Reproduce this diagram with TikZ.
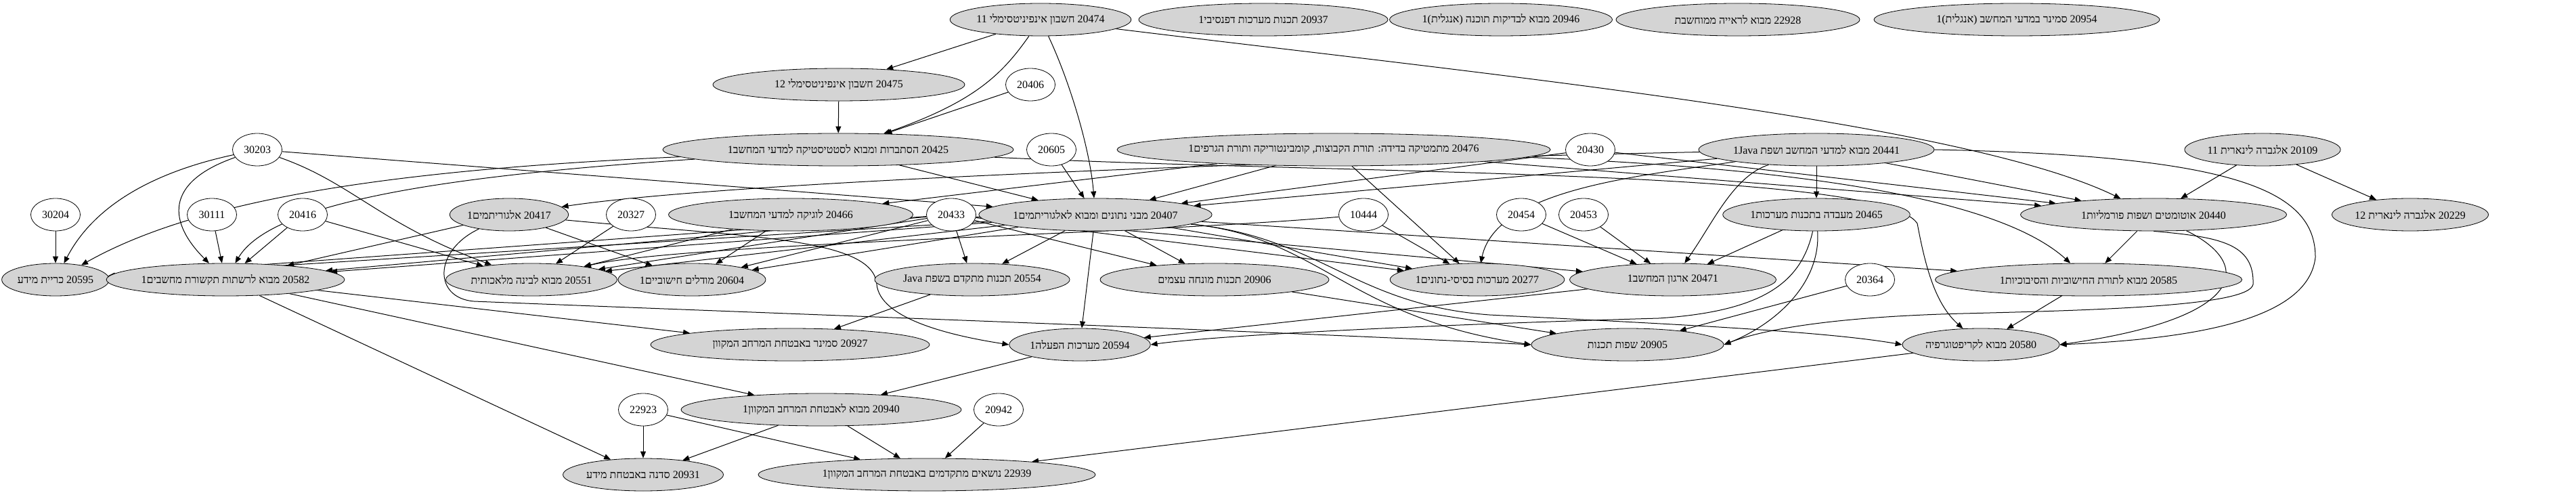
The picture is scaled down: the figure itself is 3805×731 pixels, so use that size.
\documentclass[tikz,border=0pt]{standalone}
\usepackage{fontspec}
\setmainfont{Liberation Serif}
\newfontfamily\hebfont[Script=Hebrew]{Liberation Serif}
\TeXXeTstate=1
\usetikzlibrary{arrows.meta,shapes.geometric,backgrounds}
\newcommand\rl[1]{\beginR #1\endR}
\newcommand\mk{\kern0pt 1}

\begin{document}
\begin{tikzpicture}[x=0.5pt, y=-0.5pt,
  course/.style={draw, ellipse, fill=black!17, inner sep=0pt, minimum height=24pt,
                 font=\hebfont\fontsize{8}{9.6}\selectfont},
  extra/.style={draw, ellipse, fill=white, inner sep=0pt, minimum height=24pt,
                minimum width=36.5pt, font=\hebfont\fontsize{8}{9.6}\selectfont},
  pre/.style={-{Triangle[length=5pt,width=4pt]}, line width=0.5pt}
]
\useasboundingbox (0,0) rectangle (3805,731);

% row 1
\node[course, minimum width=124.5pt] (c20474) at (1537,29) {\rl{20474 חשבון אינפיניטסימלי 11}};
\node[course, minimum width=184pt] (c20937) at (1866,29) {\rl{20937 תכנות מערכות דפנסיבי\mk}};
\node[course, minimum width=147.5pt] (c20946) at (2217,29) {\rl{20946 מבוא לבדיקות תוכנה (אנגלית)\mk}};
\node[course, minimum width=180pt] (c22928) at (2567,29) {\rl{22928 מבוא לראייה ממוחשבת}};
\node[course, minimum width=211pt] (c20954) at (2979,29) {\rl{20954 סמינר במדעי המחשב (אנגלית)\mk}};
% row 2
\node[course, minimum width=186pt] (c20475) at (1239,125) {\rl{20475 חשבון אינפיניטסימלי 12}};
\node[extra] (n20406) at (1522,125) {20406};
% row 3
\node[extra] (n30203) at (380,221) {30203};
\node[course, minimum width=259pt] (c20425) at (1238,221) {\rl{20425 הסתברות ומבוא לסטטיסטיקה למדעי המחשב\mk}};
\node[extra] (n20605) at (1553,221) {20605};
\node[course, minimum width=320pt] (c20476) at (1970,221) {\rl{20476 מתמטיקה בדידה: תורת הקבוצות, קומבינטוריקה ותורת הגרפים\mk}};
\node[extra] (n20430) at (2349,221) {20430};
\node[course, minimum width=154.5pt] (c20441) at (2683,221) {\rl{20441 מבוא למדעי המחשב ושפת 1Java}};
\node[course, minimum width=109pt] (c20109) at (3342,221) {\rl{20109 אלגברה לינארית 11}};
% row 4
\node[extra] (n30204) at (82,317) {30204};
\node[extra] (n30111) at (313,317) {30111};
\node[extra] (n20416) at (447,317) {20416};
\node[course, minimum width=85pt] (c20417) at (752,317) {\rl{20417 אלגוריתמים\mk}};
\node[extra] (n20327) at (932,317) {20327};
\node[course, minimum width=180.5pt] (c20466) at (1168,317) {\rl{20466 לוגיקה למדעי המחשב\mk}};
\node[extra] (n20433) at (1405,317) {20433};
\node[course, minimum width=154.5pt] (c20407) at (1618,317) {\rl{20407 מבני נתונים ומבוא לאלגוריתמים\mk}};
\node[extra] (n10444) at (2014,317) {10444};
\node[extra] (n20454) at (2247,317) {20454};
\node[extra] (n20453) at (2339,317) {20453};
\node[course, minimum width=124pt] (c20465) at (2683,317) {\rl{20465 מעבדה בתכנות מערכות\mk}};
\node[course, minimum width=196.5pt] (c20440) at (3181,317) {\rl{20440 אוטומטים ושפות פורמליות\mk}};
\node[course, minimum width=108.5pt] (c20229) at (3560,317) {\rl{20229 אלגברה לינארית 12}};
% row 5
\node[course, minimum width=78.5pt] (c20595) at (82,413) {\rl{20595 כריית מידע}};
\node[course, minimum width=154pt] (c20582) at (333,413) {\rl{20582 מבוא לרשתות תקשורת מחשבים\mk}};
\node[course, minimum width=115.5pt] (c20551) at (785,413) {\rl{20551 מבוא לבינה מלאכותית}};
\node[course, minimum width=102pt] (c20604) at (1022,413) {\rl{20604 מודלים חישוביים\mk}};
\node[course, minimum width=129.5pt] (c20554) at (1436,413) {\rl{20554 תכנות מתקדם בשפת Java}};
\node[course, minimum width=169pt] (c20906) at (1794,413) {\rl{20906 תכנות מונחה עצמים}};
\node[course, minimum width=118.5pt] (c20277) at (2182,413) {\rl{20277 מערכות בסיסי-נתונים\mk}};
\node[course, minimum width=152.5pt] (c20471) at (2471,413) {\rl{20471 ארגון המחשב\mk}};
\node[extra] (n20364) at (2762,413) {20364};
\node[course, minimum width=226.5pt] (c20585) at (3085,413) {\rl{20585 מבוא לתורת החישוביות והסיבוכיות\mk}};
% row 6
\node[course, minimum width=206pt] (c20927) at (1167,509) {\rl{20927 סמינר באבטחת המרחב המקוון}};
\node[course, minimum width=96.5pt] (c20594) at (1595,509) {\rl{20594 מערכות הפעלה\mk}};
\node[course, minimum width=142pt] (c20905) at (2404,509) {\rl{20905 שפות תכנות}};
\node[course, minimum width=108pt] (c20580) at (2926,509) {\rl{20580 מבוא לקריפטוגרפיה}};
% row 7
\node[extra] (n22923) at (950,605) {22923};
\node[course, minimum width=207pt] (c20940) at (1213,605) {\rl{20940 מבוא לאבטחת המרחב המקוון\mk}};
\node[extra] (n20942) at (1475,605) {20942};
% row 8
\node[course, minimum width=107.5pt] (c20931) at (950,701) {\rl{20931 סדנה באבטחת מידע}};
\node[course, minimum width=249pt] (c22939) at (1369,701) {\rl{22939 נושאים מתקדמים באבטחת המרחב המקוון\mk}};

\begin{pgfonlayer}{background}
% prerequisites, top rows
\draw[pre] (c20474) -- (c20475);
\draw[pre] (c20474) .. controls (1480,110) and (1440,150) .. (c20425);
\draw[pre] (c20474) .. controls (1580,120) and (1610,220) .. (c20407);
\draw[pre] (c20474) .. controls (2200,110) and (2900,180) .. (c20440);
\draw[pre] (c20475) -- (c20425);
\draw[pre] (n20406) -- (c20425);
\draw[pre] (n20605) -- (c20407);
\draw[pre] (c20425) -- (c20407);
\draw[pre] (c20425) .. controls (600,250) and (300,290) .. (c20595);
\draw[pre] (c20425) .. controls (650,260) and (400,300) .. (c20582);
\draw[pre] (c20425) .. controls (2000,258) and (2780,250) .. (2832,330)
                    .. controls (2845,400) and (2860,450) .. (c20580);
\draw[pre] (n30203) .. controls (200,260) and (130,320) .. (c20595);
\draw[pre] (n30203) .. controls (240,270) and (250,330) .. (c20582);
\draw[pre] (n30203) .. controls (520,270) and (560,330) .. (c20551);
\draw[pre] (n30203) -- (c20407);
\draw[pre] (c20476) -- (c20466);
\draw[pre] (c20476) -- (c20407);
\draw[pre] (c20476) -- (c20277);
\draw[pre] (c20476) -- (c20440);
\draw[pre] (c20476) .. controls (2700,250) and (2960,300) .. (c20585);
\draw[pre] (n20430) -- (c20407);
\draw[pre] (n20430) -- (c20440);
\draw[pre] (c20441) .. controls (2000,235) and (1100,265) .. (c20417);
\draw[pre] (c20441) -- (c20465);
\draw[pre] (c20441) -- (c20440);
\draw[pre] (c20441) -- (c20407);
\draw[pre] (c20441) .. controls (2420,260) and (2210,280) .. (c20277);
\draw[pre] (c20441) .. controls (2560,260) and (2530,330) .. (c20471);
\draw[pre] (c20441.east) .. controls (3300,230) and (3420,280) .. (3420,380)
                         .. controls (3410,470) and (3250,500) .. (c20580.east);
\draw[pre] (c20109) -- (c20440);
\draw[pre] (c20109) -- (c20229);
% row 4 sources
\draw[pre] (n30204) -- (c20595);
\draw[pre] (n30111) -- (c20582);
\draw[pre] (n20416) -- (c20582);
\draw[pre] (n20416) -- (c20551);
\draw[pre] (c20417) -- (c20582);
\draw[pre] (c20417) -- (c20604);
\draw[pre] (c20417) .. controls (1100,350) and (1290,350) .. (1295,420)
                    .. controls (1300,470) and (1400,495) .. (c20594.west);
\draw[pre] (c20417) .. controls (640,370) and (640,440) .. (700,445)
                    .. controls (1200,465) and (1900,490) .. (c20905.west);
\draw[pre] (n20327) -- (c20551);
\draw[pre] (c20466) -- (c20604);
\draw[pre] (c20466) -- (c20551);
\draw[pre] (n20433) -- (c20595);
\draw[pre] (n20433) -- (c20582);
\draw[pre] (n20433) -- (c20551);
\draw[pre] (n20433) -- (c20604);
\draw[pre] (n20433) -- (c20554);
\draw[pre] (n20433) -- (c20906);
\draw[pre] (n20433) -- (c20277);
\draw[pre] (n20433) -- (c20471);
\draw[pre] (c20407) -- (c20595);
\draw[pre] (c20407) -- (c20582);
\draw[pre] (c20407) -- (c20551);
\draw[pre] (c20407) -- (c20604);
\draw[pre] (c20407) -- (c20554);
\draw[pre] (c20407) -- (c20594);
\draw[pre] (c20407) -- (c20906);
\draw[pre] (c20407) -- (c20277);
\draw[pre] (c20407) -- (c20585);
\draw[pre] (c20407) .. controls (1950,350) and (1990,470) .. (c20905.west);
\draw[pre] (c20407) .. controls (1950,350) and (2000,450) .. (2200,465)
                    .. controls (2500,480) and (2700,490) .. (c20580.west);
\draw[pre] (n10444) .. controls (1700,345) and (1000,360) .. (c20551);
\draw[pre] (n10444) -- (c20277);
\draw[pre] (n20454) -- (c20471);
\draw[pre] (n20453) -- (c20471);
\draw[pre] (c20465) -- (c20471);
\draw[pre] (c20465) .. controls (2690,420) and (2620,480) .. (c20905.east);
\draw[pre] (c20465) .. controls (2660,420) and (2600,460) .. (2450,470)
                    .. controls (2100,480) and (1800,495) .. (c20594.east);
\draw[pre] (c20440) -- (c20585);
\draw[pre] (c20440) .. controls (3330,390) and (3320,470) .. (c20580.east);
\draw[pre] (c20440.south) .. controls (3280,350) and (3330,360) .. (3328,420)
                          .. controls (3322,452) and (3100,458) .. (2900,463)
                          .. controls (2700,468) and (2600,488) .. (c20905.east);
% lower rows
\draw[pre] (c20471) -- (c20594);
\draw[pre] (c20906) -- (c20905);
\draw[pre] (n20364) -- (c20905);
\draw[pre] (c20585) -- (c20580);
\draw[pre] (c20554) -- (c20927);
\draw[pre] (c20582) -- (c20927);
\draw[pre] (c20582) -- (c20940);
\draw[pre] (c20582) -- (c20931);
\draw[pre] (c20594) -- (c20940);
\draw[pre] (n22923) -- (c20931);
\draw[pre] (n22923) -- (c22939);
\draw[pre] (c20940) -- (c20931);
\draw[pre] (c20940) -- (c22939);
\draw[pre] (n20942) -- (c22939);
\draw[pre] (c20580) -- (c22939);
\end{pgfonlayer}
\end{tikzpicture}
\end{document}
